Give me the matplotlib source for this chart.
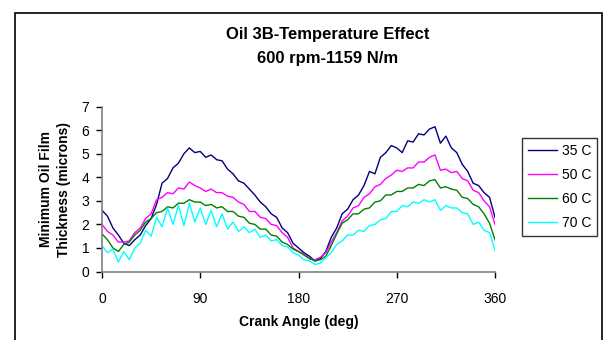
import matplotlib
matplotlib.use("Agg")
import matplotlib.pyplot as plt
from matplotlib.patches import Rectangle

plt.rcParams["font.family"] = ["Liberation Sans", "DejaVu Sans"]

# crank angle grid (deg) and film thickness readings (microns)
angles = list(range(0, 361, 5))

temp_35 = [2.6, 2.35, 1.85, 1.55, 1.2, 1.1, 1.35, 1.55, 1.95, 2.25,
           2.85, 3.75, 3.95, 4.4, 4.6, 5.0, 5.25, 5.05, 5.1, 4.85,
           4.95, 4.75, 4.7, 4.35, 4.15, 3.85, 3.75, 3.5, 3.25, 2.95,
           2.75, 2.45, 2.3, 1.85, 1.65, 1.2, 1.0, 0.8, 0.65, 0.45,
           0.55, 0.85, 1.45, 1.85, 2.45, 2.65, 3.05, 3.25, 3.65, 4.25,
           4.15, 4.85, 5.05, 5.35, 5.25, 5.05, 5.55, 5.5, 5.85, 5.8,
           6.05, 6.15, 5.45, 5.75, 5.25, 5.05, 4.55, 4.25, 3.75, 3.65,
           3.35, 3.15, 2.3]
temp_50 = [2.0, 1.7, 1.55, 1.25, 1.25, 1.3, 1.65, 1.85, 2.25, 2.45,
           3.05, 3.15, 3.35, 3.3, 3.55, 3.5, 3.8, 3.65, 3.55, 3.4,
           3.5, 3.35, 3.35, 3.2, 3.15, 2.95, 2.85, 2.55, 2.55, 2.3,
           2.25, 2.0, 1.95, 1.65, 1.45, 1.0, 0.85, 0.75, 0.55, 0.5,
           0.6, 0.8, 1.25, 1.65, 2.15, 2.35, 2.7, 2.8, 3.15, 3.3,
           3.6, 3.7, 3.95, 4.1, 4.3, 4.25, 4.4, 4.4, 4.65, 4.65,
           4.85, 4.95, 4.3, 4.35, 4.2, 4.25, 3.95, 3.85, 3.45, 3.35,
           3.0, 2.75, 2.0]
temp_60 = [1.6, 1.35, 1.0, 0.85, 1.15, 1.25, 1.55, 1.75, 2.1, 2.25,
           2.5, 2.55, 2.75, 2.7, 2.9, 2.9, 3.05, 2.95, 2.95, 2.8,
           2.85, 2.7, 2.75, 2.55, 2.55, 2.35, 2.3, 2.05, 2.0, 1.8,
           1.8, 1.55, 1.5, 1.25, 1.15, 0.95, 0.85, 0.7, 0.55, 0.45,
           0.5, 0.65, 1.1, 1.6, 2.05, 2.2, 2.45, 2.45, 2.65, 2.7,
           2.95, 3.0, 3.25, 3.25, 3.4, 3.4, 3.55, 3.55, 3.7, 3.65,
           3.85, 3.9, 3.55, 3.6, 3.5, 3.45, 3.15, 3.1, 2.85, 2.75,
           2.45, 2.05, 1.35]
temp_70 = [1.1, 0.8, 0.95, 0.4, 0.85, 0.5, 1.0, 1.2, 1.75, 1.5,
           2.3, 1.9, 2.7, 2.0, 2.8, 1.95, 2.9, 2.1, 2.7, 2.0,
           2.6, 1.9, 2.45, 1.8, 2.1, 1.7, 1.9, 1.65, 1.8, 1.45,
           1.55, 1.3, 1.35, 1.1, 1.05, 0.8, 0.7, 0.5, 0.45, 0.3,
           0.35, 0.6, 0.8, 1.15, 1.3, 1.55, 1.55, 1.75, 1.7, 1.95,
           2.0, 2.2, 2.25, 2.55, 2.55, 2.8, 2.75, 2.95, 2.9, 3.05,
           2.95, 3.05, 2.6, 2.8, 2.7, 2.7, 2.5, 2.45, 2.0, 2.1,
           1.75, 1.65, 0.9]

series_labels = ["35 C", "50 C", "60 C", "70 C"]
series_colors = ["#000080", "#FF00FF", "#008000", "#00FFFF"]
x_ticks = [0, 90, 180, 270, 360]
y_ticks = [0, 1, 2, 3, 4, 5, 6, 7]

fig = plt.figure(figsize=(6.06, 3.40), dpi=100)
ax = fig.add_axes([102 / 606, 1 - 271.5 / 340, 393 / 606, 164.8 / 340])

for vals, label, color in zip([temp_35, temp_50, temp_60, temp_70],
                              series_labels, series_colors):
    ax.plot(angles, vals, color=color, lw=1.0, label=label)

ax.set_xlim(0, 360)
ax.set_ylim(0, 7)
ax.set_xticks(x_ticks)
ax.set_yticks(y_ticks)
ax.tick_params(direction="out", length=4, width=1, labelsize=10, colors="black")
ax.tick_params(axis="x", pad=11)
ax.tick_params(axis="y", pad=5)
for side in ("top", "right"):
    ax.spines[side].set_visible(False)
for side in ("left", "bottom"):
    ax.spines[side].set_color("#808080")
    ax.spines[side].set_linewidth(1.2)

ax.set_xlabel("Crank Angle (deg)", fontsize=10, fontweight="bold", labelpad=6)
ax.set_ylabel("Minimum Oil Film\nThickness (microns)", fontsize=10,
              fontweight="bold", labelpad=8, linespacing=1.3)

fig.text(328 / 606, 1 - 34 / 340, "Oil 3B-Temperature Effect", ha="center",
         va="center", fontsize=12, fontweight="bold")
fig.text(328 / 606, 1 - 58 / 340, "600 rpm-1159 N/m", ha="center",
         va="center", fontsize=12, fontweight="bold")

leg = fig.legend(loc="upper left", bbox_to_anchor=(522 / 606, 1 - 138 / 340),
                 borderaxespad=0, frameon=True, fancybox=False, fontsize=10,
                 handlelength=2.1, labelspacing=0.72, borderpad=0.42,
                 handletextpad=0.35)
leg.get_frame().set_edgecolor("black")
leg.get_frame().set_linewidth(1.0)

# outer chart border (cut off at the bottom of the image)
fig.patches.append(Rectangle((15 / 606, -0.05), 587 / 606, 1.05 - 12.5 / 340,
                             transform=fig.transFigure, fill=False,
                             edgecolor="black", lw=1.2))

fig.savefig("out.png", dpi=100)
